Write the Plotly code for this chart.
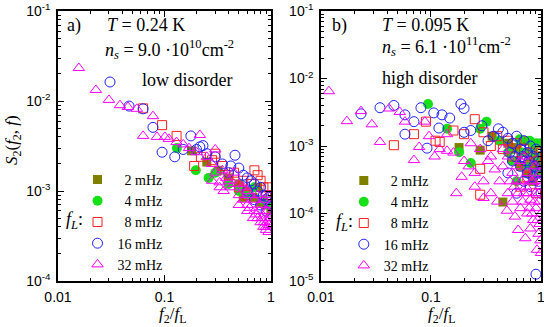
import plotly.graph_objects as go

# ---- panel a (low disorder) : f2/fL , S2 ----
a_2mhz_x = [0.18, 0.25, 0.32, 0.40, 0.50, 0.55, 0.60, 0.68, 0.75, 0.80, 0.90, 1.00]
a_2mhz_y = [0.0028, 0.0021, 0.0017, 0.0014, 0.0012, 0.00085, 0.0010, 0.00085, 0.0011, 0.00075, 0.0007, 0.0006]

a_4mhz_x = [0.131, 0.197, 0.26, 0.30, 0.40, 0.50, 0.60, 0.70, 0.85, 0.95]
a_4mhz_y = [0.0030, 0.0017, 0.0014, 0.0016, 0.0012, 0.0010, 0.0009, 0.0011, 0.0008, 0.0007]

a_8mhz_x = [0.063, 0.095, 0.13, 0.19, 0.22, 0.28, 0.30, 0.35, 0.40, 0.45, 0.50, 0.55,
            0.60, 0.65, 0.70, 0.75, 0.80, 0.85, 0.90, 0.95, 1.00]
a_8mhz_y = [0.0083, 0.0054, 0.0041, 0.0019, 0.0024, 0.0022, 0.0026, 0.0019, 0.0015, 0.0016, 0.0011, 0.0013,
            0.0009, 0.0012, 0.0017, 0.0015, 0.0013, 0.0011, 0.0009, 0.0011, 0.0009]

a_16mhz_x = [0.0308, 0.0465, 0.063, 0.078, 0.095, 0.125, 0.15, 0.177, 0.20, 0.215, 0.23, 0.25,
             0.30, 0.35, 0.40, 0.42, 0.46, 0.50, 0.55, 0.60, 0.60, 0.65, 0.70, 0.70,
             0.75, 0.80, 0.80, 0.85, 0.90, 0.90, 0.95, 1.00]
a_16mhz_y = [0.0163, 0.0088, 0.0082, 0.0051, 0.0027, 0.0024, 0.0029, 0.0041, 0.0029, 0.0031, 0.0032, 0.0026,
             0.0024, 0.0020, 0.0016, 0.0019, 0.0025, 0.0018, 0.0015, 0.0014, 0.0010, 0.0013, 0.0012, 0.0008,
             0.0010, 0.0011, 0.0007, 0.0009, 0.0008, 0.0006, 0.00085, 0.0007]

a_32mhz_x = [0.0157, 0.0227, 0.0301, 0.0382, 0.0454, 0.055, 0.063, 0.078, 0.085, 0.101, 0.11, 0.13,
             0.15, 0.17, 0.20, 0.215, 0.25, 0.28, 0.28, 0.30, 0.30, 0.33, 0.33, 0.35,
             0.36, 0.38, 0.40, 0.42, 0.45, 0.45, 0.50, 0.50, 0.55, 0.55, 0.60, 0.60,
             0.63, 0.65, 0.70, 0.70, 0.75, 0.75, 0.80, 0.80, 0.85, 0.85, 0.88, 0.90,
             0.90, 0.92, 0.95, 0.95, 0.97, 0.98, 1.00,
             0.50, 0.60, 0.68, 0.72, 0.78, 0.82, 0.86, 0.90, 0.93, 0.96, 0.99]
a_32mhz_y = [0.0233, 0.0133, 0.0103, 0.0090, 0.0086, 0.0082, 0.0041, 0.0068, 0.0040, 0.0040, 0.0038, 0.0035,
             0.0033, 0.0030, 0.0027, 0.0042, 0.0024, 0.0020, 0.0013, 0.0029, 0.0016, 0.0011, 0.00125, 0.0017,
             0.0010, 0.0014, 0.0013, 0.0011, 0.0012, 0.0016, 0.0009, 0.0012, 0.0008, 0.0011, 0.0007, 0.0010,
             0.00065, 0.0009, 0.0006, 0.0008, 0.0005, 0.0009, 0.00045, 0.0007, 0.0004, 0.0008, 0.0005, 0.00037,
             0.0006, 0.00045, 0.00035, 0.0009, 0.0005, 0.0007, 0.0004,
             0.0007, 0.0006, 0.0005, 0.00055, 0.0006, 0.0005, 0.00045, 0.0004, 0.0006, 0.00042, 0.00055]

# ---- panel b (high disorder) ----
b_2mhz_x = [0.18, 0.28, 0.36, 0.45, 0.50, 0.55, 0.60, 0.60, 0.65, 0.70, 0.70, 0.75, 0.80, 0.85, 0.90, 0.95, 1.00]
b_2mhz_y = [0.00095, 0.00087, 0.0014, 0.000148, 0.0011, 0.0009, 0.0006, 0.00095, 0.0005, 0.0008, 0.0012,
            0.0004, 0.0007, 0.0003, 0.0005, 0.0006, 0.0004]

b_4mhz_x = [0.094, 0.14, 0.18, 0.23, 0.28, 0.32, 0.42, 0.50, 0.55, 0.60, 0.64, 0.67, 0.75, 0.79, 0.80,
            0.85, 0.90, 0.91, 0.95, 1.00]
b_4mhz_y = [0.0042, 0.0018, 0.00081, 0.00056, 0.0018, 0.0023, 0.0012, 0.0008, 0.0006, 0.0003, 0.00126, 0.0008,
            0.0005, 0.0012, 0.0008, 0.0009, 0.0004, 0.0011, 0.0007, 0.0011]

b_8mhz_x = [0.046, 0.07, 0.09, 0.11, 0.12, 0.16, 0.20, 0.25, 0.28, 0.28, 0.30, 0.35, 0.40, 0.45,
            0.50, 0.55, 0.60, 0.65, 0.65, 0.70, 0.75, 0.75, 0.80, 0.85, 0.90, 0.90, 0.95, 1.00]
b_8mhz_y = [0.00103, 0.0015, 0.0023, 0.0012, 0.00115, 0.0017, 0.0015, 0.0025, 0.00046, 0.00019, 0.0016, 0.0010,
            0.0014, 0.0009, 0.0012, 0.0007, 0.0011, 0.0006, 0.00025, 0.0009, 0.0005, 0.00035, 0.0008, 0.0004,
            0.0007, 0.0002, 0.0006, 0.0008]

b_16mhz_x = [0.0231, 0.0344, 0.046, 0.058, 0.058, 0.07, 0.081, 0.092, 0.106, 0.118, 0.126, 0.148,
             0.187, 0.20, 0.20, 0.23, 0.29, 0.33, 0.37, 0.41, 0.45, 0.50, 0.50, 0.55,
             0.55, 0.60, 0.60, 0.65, 0.65, 0.70, 0.70, 0.75, 0.75, 0.80, 0.80, 0.85,
             0.85, 0.90, 0.90, 0.95, 0.95, 1.00, 1.00,
             0.52, 0.58, 0.68, 0.72, 0.78, 0.88, 0.92, 0.97]
b_16mhz_y = [0.0030, 0.0037, 0.0040, 0.0029, 0.0015, 0.0023, 0.0037, 0.00093, 0.0031, 0.00185, 0.0029, 0.0026,
             0.0042, 0.0036, 0.0016, 0.0017, 0.0020, 0.0012, 0.0014, 0.0018, 0.0016, 0.0013, 0.0004, 0.0011,
             0.0006, 0.0014, 0.0002, 0.0009, 0.0005, 0.0012, 0.0003, 0.0008, 0.0004, 0.0010, 0.00025, 0.0007,
             0.00035, 0.0009, 0.0000126, 0.0006, 0.0003, 0.0005, 0.0002,
             0.0008, 0.0007, 0.0007, 0.0006, 0.0006, 0.0005, 0.0004, 0.0004]

b_32mhz_x = [0.0118, 0.0172, 0.0231, 0.029, 0.0344, 0.0415, 0.052, 0.058, 0.07, 0.078, 0.088, 0.096,
             0.108, 0.12, 0.14, 0.14, 0.16, 0.17, 0.19, 0.20, 0.22, 0.23, 0.25, 0.25,
             0.28, 0.30, 0.30, 0.33, 0.35, 0.35, 0.38, 0.40, 0.42, 0.45, 0.45, 0.49,
             0.50, 0.50, 0.55, 0.55, 0.58, 0.60, 0.60, 0.62, 0.65, 0.65, 0.70, 0.70,
             0.72, 0.75, 0.75, 0.80, 0.80, 0.85, 0.85, 0.88, 0.90, 0.92, 0.95, 0.95,
             0.98, 1.00, 1.00,
             0.52, 0.57, 0.62, 0.66, 0.68, 0.73, 0.77, 0.78, 0.82, 0.83, 0.87, 0.89,
             0.93, 0.94, 0.96, 0.97, 0.99, 0.99]
b_32mhz_y = [0.0065, 0.00234, 0.0033, 0.0021, 0.00115, 0.0036, 0.0032, 0.0023, 0.00062, 0.00097, 0.0023, 0.0014,
             0.0007, 0.0009, 0.0015, 0.00085, 0.0008, 0.0002, 0.00035, 0.0006, 0.0005, 0.0011, 0.0004, 0.00025,
             0.0009, 0.0003, 0.00017, 0.0006, 0.0002, 0.0007, 0.00045, 0.00015, 0.0003, 0.0005, 0.0009, 0.00011,
             0.0002, 0.0007, 0.00015, 0.0004, 0.00009, 0.0003, 0.0005, 0.000057, 0.00012, 0.0006, 0.0002, 0.0007,
             0.000043, 0.0001, 0.0004, 0.00006, 0.00016, 0.0003, 0.00008, 0.0005, 0.00012, 0.000029, 0.00005, 0.0002,
             0.0004, 0.000026, 0.0001,
             0.0003, 0.00025, 0.0002, 0.0003, 0.00015, 0.00025, 0.0002, 0.00012, 0.0003, 0.0001, 0.00015, 0.0002,
             0.00008, 0.0003, 0.00015, 0.00007, 0.00025, 0.00004]

series_names = ["\u20072 mHz", "\u20074 mHz", "\u20078 mHz", "16 mHz", "32 mHz"]

# tick labels
x_tickvals = [0.01, 0.1, 1]
x_ticktext = ["0.01", "0.1", "1"]
ya_tickvals = [1e-4, 1e-3, 1e-2, 1e-1]
ya_ticktext = ["10<sup>-4</sup>", "10<sup>-3</sup>", "10<sup>-2</sup>", "10<sup>-1</sup>"]
yb_tickvals = [1e-5, 1e-4, 1e-3, 1e-2, 1e-1]
yb_ticktext = ["10<sup>-5</sup>", "10<sup>-4</sup>", "10<sup>-3</sup>", "10<sup>-2</sup>", "10<sup>-1</sup>"]

styles = [
    dict(symbol="square", size=9, color="#808000", line=dict(width=0)),
    dict(symbol="circle", size=10, color="#18e018", line=dict(width=0)),
    dict(symbol="square-open", size=9, color="#ff2020", line=dict(width=1)),
    dict(symbol="circle-open", size=10, color="#2020ff", line=dict(width=1)),
    dict(symbol="triangle-up-open", size=10, color="#ff00ff", line=dict(width=1)),
]

serif = "Liberation Serif"
sans = "Liberation Sans"

fig = go.Figure()

panel_a = [(a_2mhz_x, a_2mhz_y), (a_4mhz_x, a_4mhz_y), (a_8mhz_x, a_8mhz_y),
           (a_16mhz_x, a_16mhz_y), (a_32mhz_x, a_32mhz_y)]
panel_b = [(b_2mhz_x, b_2mhz_y), (b_4mhz_x, b_4mhz_y), (b_8mhz_x, b_8mhz_y),
           (b_16mhz_x, b_16mhz_y), (b_32mhz_x, b_32mhz_y)]

for (xs, ys), name, st in zip(panel_a, series_names, styles):
    fig.add_trace(go.Scatter(x=xs, y=ys, mode="markers", name=name, marker=st,
                             xaxis="x", yaxis="y", legend="legend", hoverinfo="none"))
for (xs, ys), name, st in zip(panel_b, series_names, styles):
    fig.add_trace(go.Scatter(x=xs, y=ys, mode="markers", name=name, marker=st,
                             xaxis="x2", yaxis="y2", legend="legend2", hoverinfo="none"))


def minor_vals(lo, hi):
    vals = []
    for e in range(lo, hi):
        for m in range(2, 10):
            vals.append(m * 10 ** e)
    return vals


axis_common = dict(
    type="log", showgrid=False, zeroline=False, showline=True, linecolor="black", linewidth=1.5,
    mirror="ticks", ticks="inside", ticklen=6, tickwidth=1, tickcolor="black", automargin=False,
    ticklabeloverflow="allow", tickfont=dict(family=sans, size=14, color="black"),
)
xminor = dict(tickvals=minor_vals(-2, 0), ticks="inside", ticklen=3, tickcolor="black")

fig.update_layout(
    width=544, height=327,
    margin=dict(l=0, r=0, t=0, b=0, autoexpand=False),
    paper_bgcolor="white", plot_bgcolor="white",
    xaxis=dict(axis_common, domain=[0.1066, 0.498], range=[-2, 0], anchor="y",
               tickvals=x_tickvals, ticktext=x_ticktext, ticklabelstandoff=2, minor=xminor),
    yaxis=dict(axis_common, domain=[0.1407, 0.966], range=[-4, -1], anchor="x",
               tickvals=ya_tickvals, ticktext=ya_ticktext, ticklabelstandoff=3,
               minor=dict(tickvals=minor_vals(-4, -1), ticks="inside", ticklen=3, tickcolor="black")),
    xaxis2=dict(axis_common, domain=[0.590, 0.9945], range=[-2, 0], anchor="y2",
                tickvals=x_tickvals, ticktext=x_ticktext, ticklabelstandoff=2, minor=xminor),
    yaxis2=dict(axis_common, domain=[0.1407, 0.966], range=[-5, -1], anchor="x2",
                tickvals=yb_tickvals, ticktext=yb_ticktext, ticklabelstandoff=3,
                minor=dict(tickvals=minor_vals(-5, -1), ticks="inside", ticklen=3, tickcolor="black")),
    legend=dict(x=0.1425, y=0.4985, xanchor="left", yanchor="top", bgcolor="rgba(0,0,0,0)",
                font=dict(family=serif, size=14, color="black"), itemwidth=30, tracegroupgap=0),
    legend2=dict(x=0.632, y=0.4954, xanchor="left", yanchor="top", bgcolor="rgba(0,0,0,0)",
                 font=dict(family=serif, size=14, color="black"), itemwidth=30, tracegroupgap=0),
    showlegend=True,
)

txt = dict(family=serif, size=18, color="black")
notes = [
    (0.1195, 0.9235, "a)"),
    (0.193, 0.9235, "<i>T</i> = 0.24 K"),
    (0.1893, 0.8471, "<i>n<sub>s</sub></i> = 9.0 ·10<sup>10</sup>cm<sup>-2</sup>"),
    (0.2574, 0.7554, "low disorder"),
    (0.6066, 0.9235, "b)"),
    (0.6985, 0.9235, "<i>T</i> = 0.095 K"),
    (0.6985, 0.8563, "<i>n<sub>s</sub></i> = 6.1 ·10<sup>11</sup>cm<sup>-2</sup>"),
    (0.6985, 0.7615, "high disorder"),
    (0.1176, 0.3242, "<i>f<sub>L</sub></i>:"),
    (0.614, 0.3211, "<i>f<sub>L</sub></i>:"),
]
for x, y, t in notes:
    fig.add_annotation(x=x, y=y, xref="paper", yref="paper", text=t, showarrow=False,
                       xanchor="left", yanchor="middle", font=txt)

title_font = dict(family=serif, size=17, color="black")
axis_titles = [
    (0.0239, 0.5719, -90, "<i>S</i><sub>2</sub>(<i>f</i><sub>2</sub>, <i>f</i>)"),
    (0.3162, 0.037, 0, "<i>f</i><sub>2</sub>/<i>f</i><sub>L</sub>"),
    (0.8107, 0.037, 0, "<i>f</i><sub>2</sub>/<i>f</i><sub>L</sub>"),
]
for x, y, ang, t in axis_titles:
    fig.add_annotation(x=x, y=y, xref="paper", yref="paper", showarrow=False, textangle=ang,
                       xanchor="center", yanchor="middle", text=t, font=title_font)

# drop the default 8px body margin so the figure fills the window exactly
fig.write_html("out.html", config={"displayModeBar": False},
               post_script="document.body.style.margin = '0px';")
